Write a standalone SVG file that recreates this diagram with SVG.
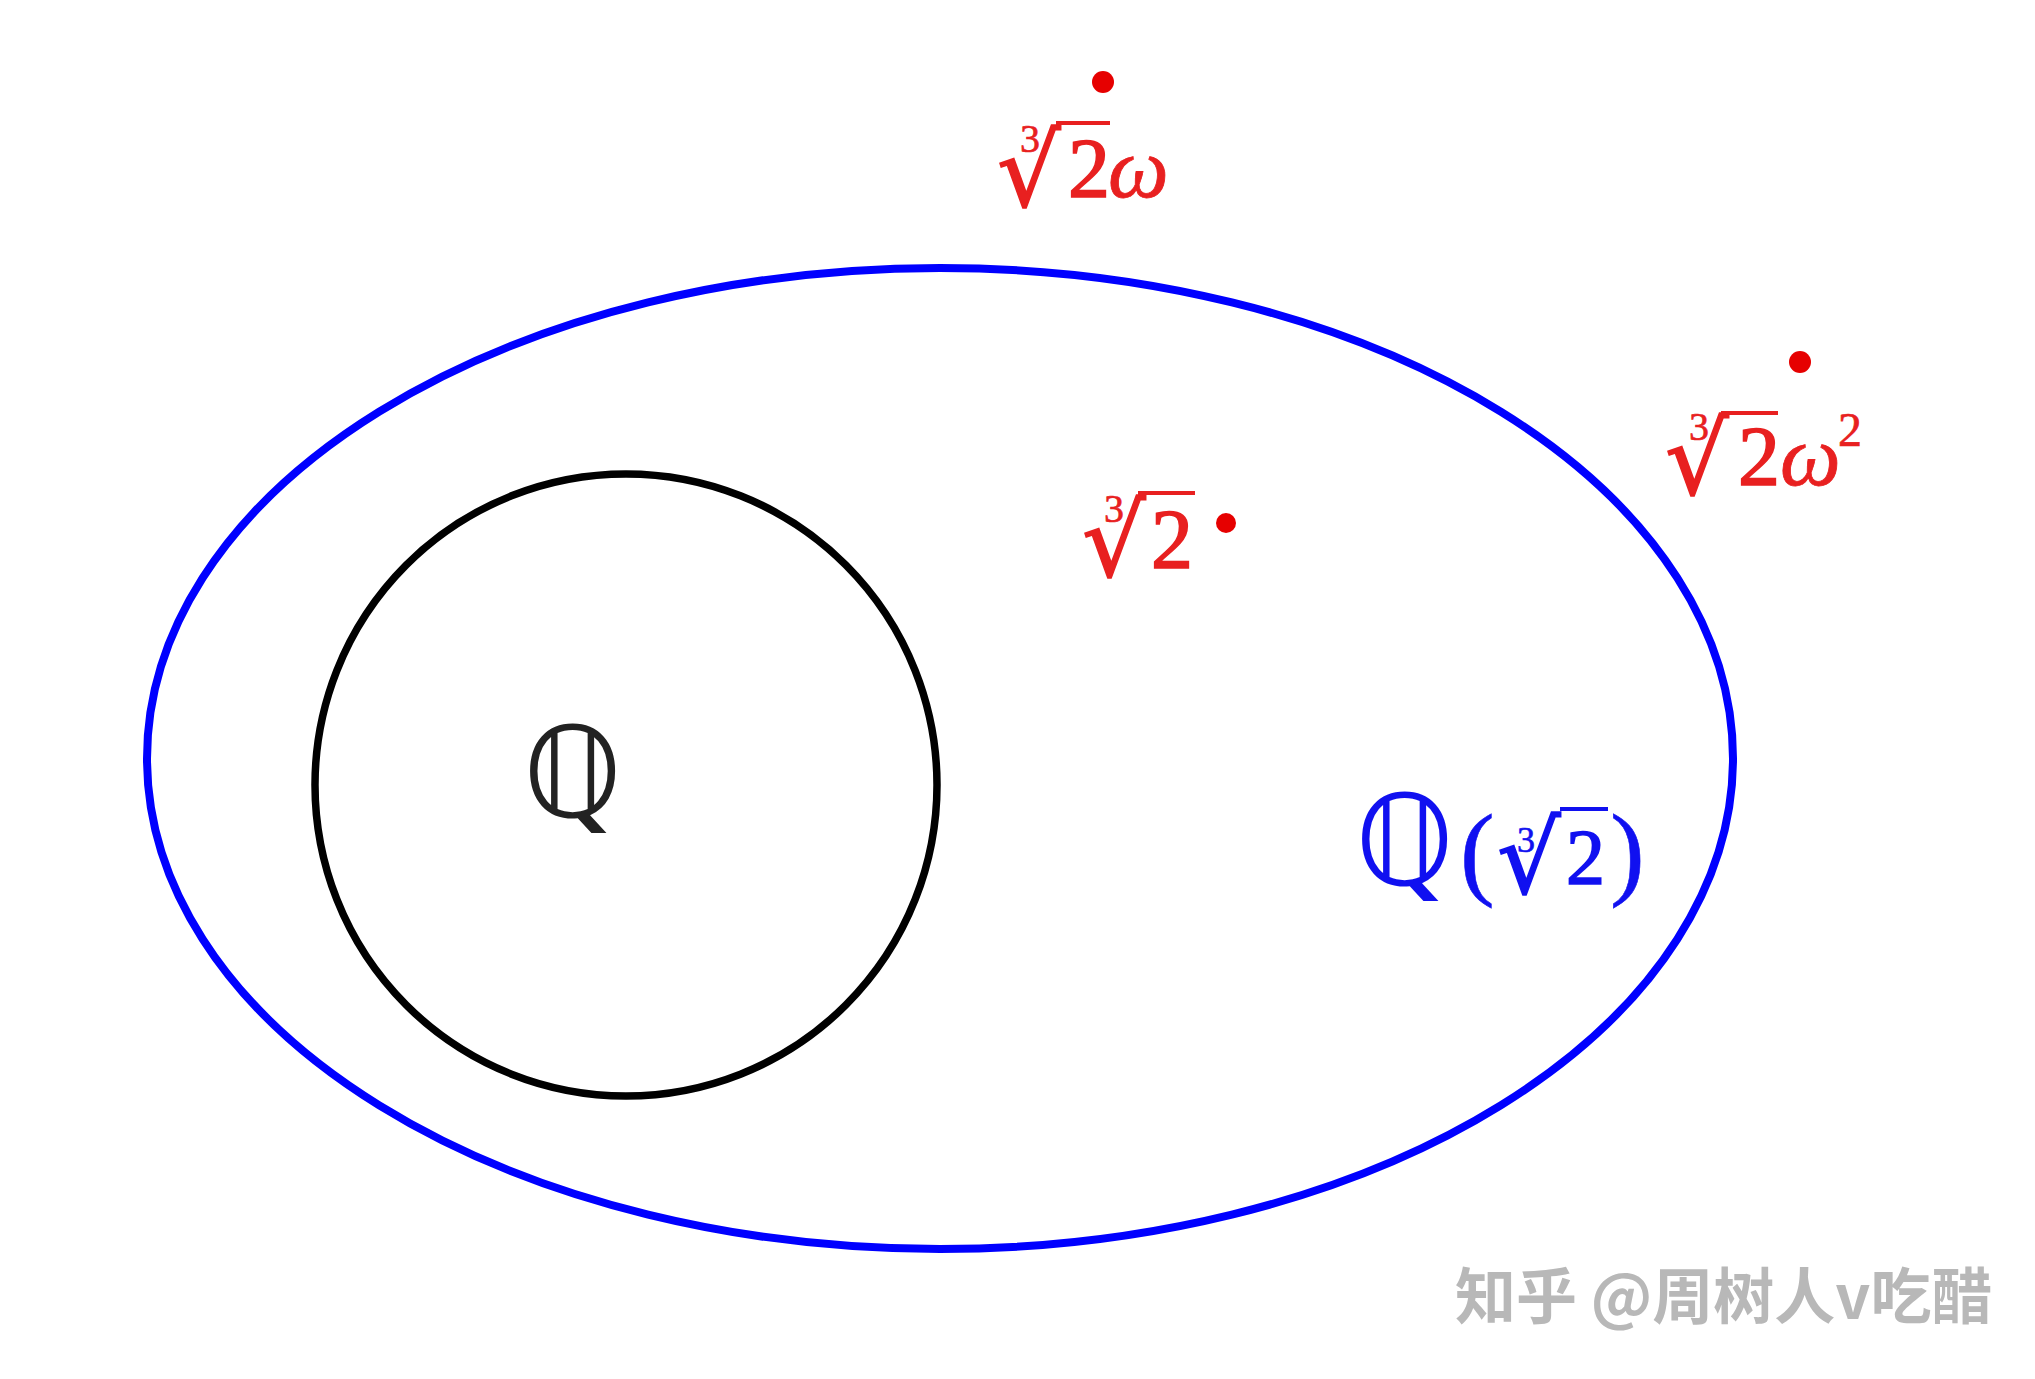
<svg xmlns="http://www.w3.org/2000/svg" width="2035" height="1379" viewBox="0 0 2035 1379">
<style>
.red{fill:#e82020;stroke:#e82020}
.blue{fill:#1010f0;stroke:#1010f0}
.num{font-family:"Liberation Serif",serif;stroke-width:1.6px}
.sm{font-family:"Liberation Serif",serif;stroke-width:0.6px}
.it{font-family:"Liberation Serif",serif;font-style:italic;stroke-width:0.8px}
.bb{font-family:"DejaVu Sans",sans-serif;stroke-width:0}
.rad{font-family:"DejaVu Serif","DejaVu Sans",serif;font-size:100px;stroke-width:1.5px}
.vr{stroke:#e82020;stroke-width:4}
.vb{stroke:#1010f0;stroke-width:4}
.dot{fill:#e60000}
</style>
<rect width="2035" height="1379" fill="#ffffff"/>
<g id="field-ext">
<ellipse cx="940" cy="758.5" rx="793" ry="490.5" fill="none" stroke="#0000ff" stroke-width="8"/>
<g class="blue">
<text class="bb" x="1355" y="885" font-size="126">ℚ</text>
<text class="sm" x="1460" y="886" font-size="104">(</text>
<text class="sm" x="1517" y="852" font-size="36">3</text>
<text class="rad" x="1497" y="893">√</text>
<line class="vb" x1="1560" y1="809" x2="1608" y2="809"/>
<text class="num" x="1566" y="883" font-size="78">2</text>
<text class="sm" x="1610" y="886" font-size="104">)</text>
</g>
</g>
<g id="field-q">
<circle cx="626" cy="785" r="311" fill="none" stroke="#000000" stroke-width="7.5"/>
<text class="bb" x="523" y="817" font-size="126" fill="#222222">ℚ</text>
</g>
<g id="root-top">
<circle class="dot" cx="1103" cy="82" r="11"/>
<g class="red">
<text class="sm" x="1020" y="152" font-size="40">3</text>
<text class="rad" x="997" y="206">√</text>
<line class="vr" x1="1056" y1="123" x2="1110" y2="123"/>
<text class="num" x="1068" y="197" font-size="84">2</text>
<text class="it" x="1108" y="197" font-size="86">ω</text>
</g>
</g>
<g id="root-mid">
<circle class="dot" cx="1226" cy="523" r="10"/>
<g class="red">
<text class="sm" x="1104" y="522" font-size="40">3</text>
<text class="rad" x="1082" y="576">√</text>
<line class="vr" x1="1138" y1="493" x2="1195" y2="493"/>
<text class="num" x="1151" y="568" font-size="84">2</text>
</g>
</g>
<g id="root-right">
<circle class="dot" cx="1800" cy="362" r="11"/>
<g class="red">
<text class="sm" x="1689" y="440" font-size="40">3</text>
<text class="rad" x="1665" y="494">√</text>
<line class="vr" x1="1721" y1="413" x2="1778" y2="413"/>
<text class="num" x="1738" y="485" font-size="84">2</text>
<text class="it" x="1780" y="485" font-size="86">ω</text>
<text class="sm" x="1838" y="446" font-size="48">2</text>
</g>
</g>
<g id="connectors"></g>
<text x="1455" y="1319" font-size="61" font-weight="bold" fill="#b8b8b8" font-family="'Noto Sans CJK SC','Noto Sans',sans-serif">知乎 @周树人v吃醋</text>
</svg>
